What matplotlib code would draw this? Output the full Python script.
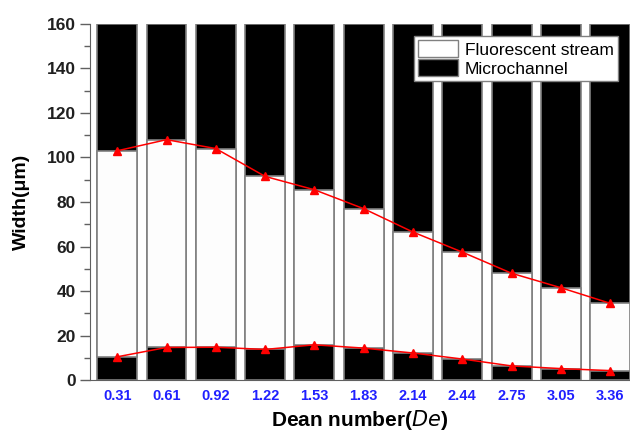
import numpy as np
import matplotlib.pyplot as plt
from matplotlib.patches import Patch
from matplotlib.ticker import MultipleLocator

plt.rcParams["font.family"] = ["Liberation Sans", "DejaVu Sans"]

dean = ["0.31", "0.61", "0.92", "1.22", "1.53", "1.83", "2.14", "2.44", "2.75", "3.05", "3.36"]
upper = [103, 108, 104, 91.5, 85.5, 77, 66.5, 57.5, 48, 41.5, 34.5]
lower = [10.5, 14.7, 14.8, 13.8, 15.9, 14.4, 12.2, 9.5, 6.4, 5.2, 4.3]
channel_width = 160

x = np.arange(len(dean))
upper = np.array(upper)
lower = np.array(lower)

fig = plt.figure(figsize=(6.3, 4.34), dpi=100)
ax = fig.add_axes([0.143, 0.124, 0.857, 0.821])

edge = "#808080"
ax.bar(x, channel_width, width=0.81, color="black", edgecolor=edge, linewidth=1.2, zorder=2)
ax.bar(x, upper - lower, bottom=lower, width=0.81, color="#fdfdfd", edgecolor=edge,
       linewidth=1.2, zorder=3)

ax.plot(x, upper, color="red", lw=1.1, marker="^", ms=6, zorder=4)
ax.plot(x, lower, color="red", lw=1.1, marker="^", ms=6, zorder=4)

ax.set_xlim(-0.55, 10.4)
ax.set_ylim(0, 160)
ax.yaxis.set_major_locator(MultipleLocator(20))
ax.yaxis.set_minor_locator(MultipleLocator(10))
ax.set_xticks(x)
ax.set_xticklabels(dean, color="#2020ff", fontweight="bold", fontsize=10.5)
ax.tick_params(axis="x", length=0, pad=6)
ax.tick_params(axis="y", which="major", direction="out", length=7, width=1,
               color="#606060", labelsize=12.5, labelcolor="#202020")
ax.tick_params(axis="y", which="minor", direction="out", length=4, width=1, color="#606060")
for lab in ax.get_yticklabels():
    lab.set_fontweight("bold")

for s in ["top", "right"]:
    ax.spines[s].set_visible(False)
ax.spines["left"].set_color("#606060")
ax.spines["bottom"].set_color("#606060")

ax.set_ylabel("Width(μm)", fontsize=14, fontweight="bold", labelpad=12)
ax.set_xlabel("Dean number($\\bf{\\it{De}}$)", fontsize=15, fontweight="bold", labelpad=4)

handles = [Patch(facecolor="white", edgecolor=edge, label="Fluorescent stream"),
           Patch(facecolor="black", edgecolor=edge, label="Microchannel")]
leg = ax.legend(handles=handles, loc="upper right", bbox_to_anchor=(0.978, 0.966),
                fontsize=12.5, frameon=True, fancybox=False, framealpha=1,
                edgecolor=edge, borderpad=0.25, labelspacing=0.1, borderaxespad=0,
                handlelength=2.3, handleheight=1.1, handletextpad=0.4)
leg.get_frame().set_linewidth(1)

fig.savefig("out.png", dpi=100)
